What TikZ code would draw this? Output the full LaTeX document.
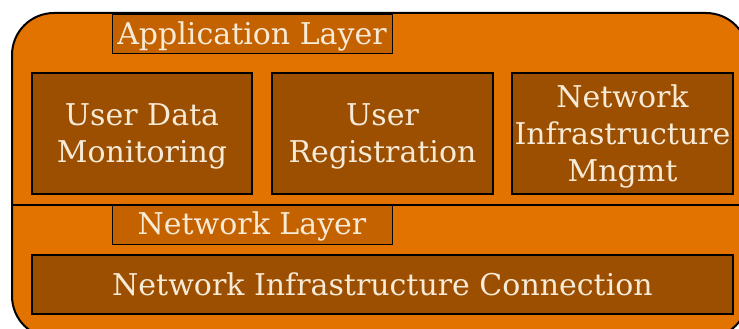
\documentclass[tikz,border=0pt]{standalone}
\usepackage{fontspec}
\setmainfont{DejaVu Serif}
\definecolor{layerorange}{HTML}{E37300}
\definecolor{tagorange}{HTML}{C46200}
\definecolor{boxbrown}{HTML}{9C4F00}
\definecolor{cream}{HTML}{F7EAD6}
\begin{document}
\begin{tikzpicture}[x=1pt,y=-1pt,
  caption/.style={text=cream, align=center, inner sep=0pt,
    font=\fontsize{30}{37}\selectfont},
  tagbox/.style={draw=black, line width=1pt, fill=tagorange,
    minimum width=280pt, minimum height=39pt, inner sep=0pt,
    label={[caption, yshift=-1.5pt]center:#1}},
  brownbox/.style={draw=black, line width=2.4pt, fill=boxbrown, inner sep=0pt},
  modbox/.style={brownbox, minimum height=121pt,
    label={[caption, yshift=-3pt]center:#1}},
  barbox/.style={brownbox, minimum height=59pt,
    label={[caption]center:#1}}]
  \useasboundingbox (0,0) rectangle (739,329);
  % outer frame of both layers
  \draw[line width=2pt, fill=layerorange, rounded corners=42pt]
    (12,13) rectangle (748,338);
  % separator between the two layers
  \coordinate (sepL) at (12,205);
  \coordinate (sepR) at (748,205);
  \draw[line width=1.6pt] (sepL) -- (sepR);
  % application layer
  \node[tagbox={Application Layer}] (app) at (252,34.5) {};
  \node[modbox={User Data\\Monitoring}, minimum width=220pt] (udm) at (142,133.5) {};
  \node[modbox={User\\Registration}, minimum width=221pt] (ureg) at (382.5,133.5) {};
  \node[modbox={Network\\Infrastructure\\Mngmt}, minimum width=221pt] (nim) at (622.5,133.5) {};
  % network layer
  \node[tagbox={Network Layer}] (net) at (252,224.5) {};
  \node[barbox={Network Infrastructure Connection}, minimum width=701pt]
    (nic) at (382.5,284.5) {};
\end{tikzpicture}
\end{document}
